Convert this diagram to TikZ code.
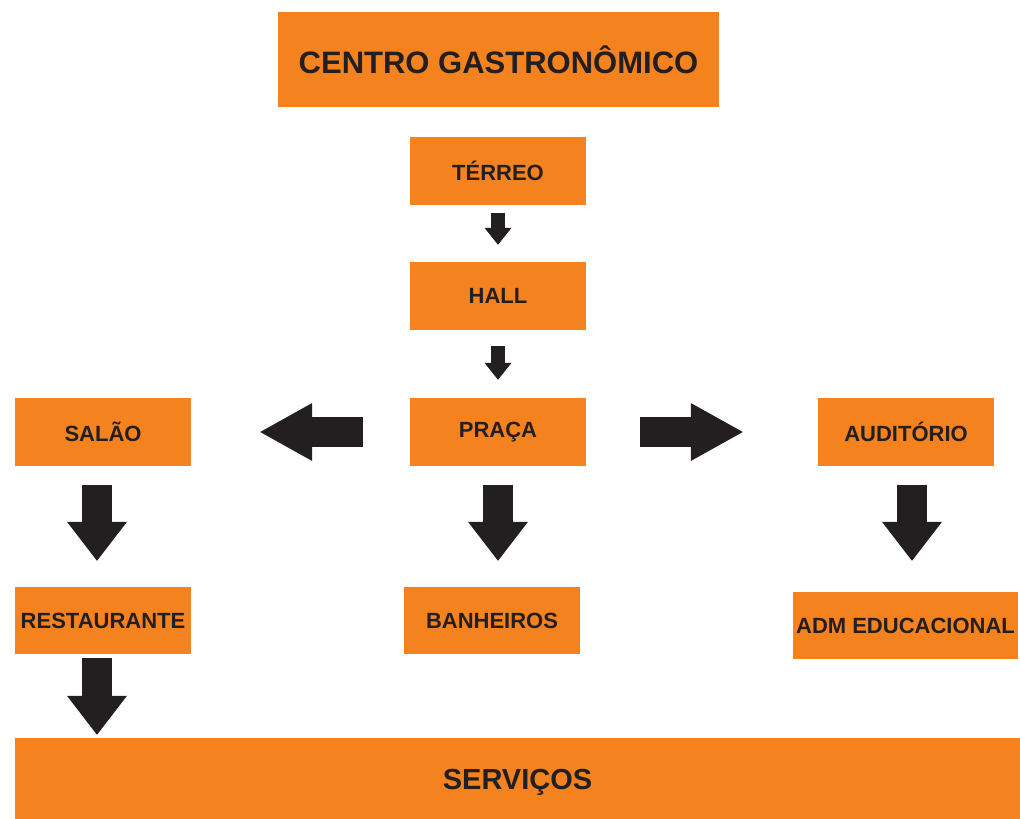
\documentclass[tikz,border=0pt]{standalone}
\usepackage{fontspec}
\setmainfont{Liberation Sans}
\usetikzlibrary{arrows.meta}

\definecolor{boxOrange}{HTML}{F4821F}
\definecolor{inkDark}{HTML}{231F20}

\tikzset{
    floorBox/.style={fill=boxOrange, text=inkDark, inner sep=0pt,
        font=\bfseries\fontsize{22}{26}\selectfont,
        minimum width=176pt, minimum height=68pt},
    smallArrow/.style={draw=inkDark, line width=14pt,
        -{Triangle[length=17pt, width=27pt, line width=0pt]}},
    bigArrow/.style={draw=inkDark, line width=30pt,
        -{Triangle[length=39pt, width=60pt, line width=0pt]}},
    sideArrow/.style={draw=inkDark, line width=30pt,
        -{Triangle[length=52pt, width=58pt, line width=0pt]}},
}

\begin{document}
\begin{tikzpicture}[x=1pt, y=-1pt]
    \useasboundingbox (0,0) rectangle (1020,819);

    % Title
        \node[floorBox, minimum width=441pt, minimum height=95pt,
            font=\bfseries\fontsize{31}{36}\selectfont] (centro) at (498.5, 59.5) {CENTRO GASTRONÔMICO};

    % Middle column
        % variables
        \def\midX{498}

        % boxes
        \node[floorBox] (terreo) at (\midX, 171) {TÉRREO};
        \node[floorBox] (hall) at (\midX, 296) {HALL};
        \node[floorBox] (praca) at (\midX, 432) {PRAÇA};
        \node[floorBox, minimum height=67pt] (banheiros) at (\midX - 6, 620.5) {BANHEIROS};

    % Side columns
        % variables
        \def\leftX{103}
        \def\rightX{906}

        % boxes
        \node[floorBox] (salao) at (\leftX, 432) {SALÃO};
        \node[floorBox, minimum height=67pt] (restaurante) at (\leftX, 620.5) {RESTAURANTE};
        \node[floorBox] (auditorio) at (\rightX, 432) {AUDITÓRIO};
        \node[floorBox, minimum width=225pt, minimum height=67pt] (adm) at (\rightX - 0.5, 625.5) {ADM EDUCACIONAL};

    % Bottom bar
        \node[floorBox, minimum width=1005pt, minimum height=81pt, text depth=0pt,
            font=\bfseries\fontsize{29}{34}\selectfont] (servicos) at (517.5, 778.5) {\raisebox{-2pt}{SERVIÇOS}};

    % Arrows
        \draw[smallArrow, shorten <=8pt, shorten >=17pt] (terreo) -- (hall);
        \draw[smallArrow, shorten <=16pt, shorten >=18pt] (hall) -- (praca);
        \draw[sideArrow, shorten <=47pt, shorten >=69pt] (praca) -- (salao);
        \draw[sideArrow, shorten <=54pt, shorten >=75pt] (praca) -- (auditorio);
        \draw[bigArrow, shorten <=19pt, shorten >=26pt] ([xshift=-6pt]salao.south) -- ([xshift=-6pt]restaurante.north);
        \draw[bigArrow, shorten <=19pt, shorten >=26pt] (praca.south) -- (praca.south |- banheiros.north);
        \draw[bigArrow, shorten <=19pt, shorten >=31pt] ([xshift=6pt]auditorio.south) -- ([xshift=6pt]auditorio.south |- adm.north);
        \draw[bigArrow, shorten <=4pt, shorten >=3pt] ([xshift=-6pt]restaurante.south) -- ([xshift=-6pt]restaurante.south |- servicos.north);
\end{tikzpicture}
\end{document}
